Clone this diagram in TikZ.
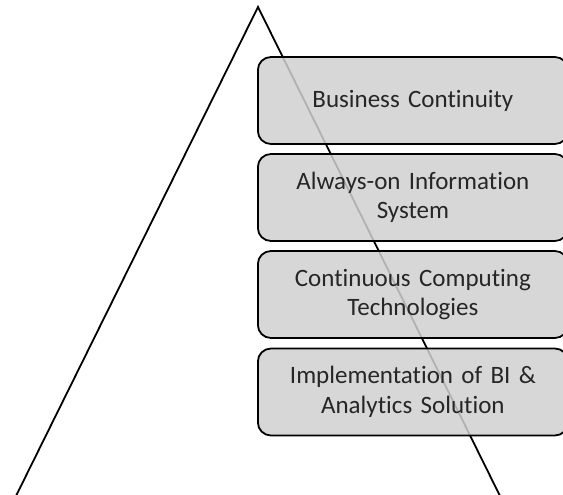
\documentclass[tikz,border=0pt]{standalone}
\usepackage{fontspec}
\setmainfont{Carlito}[Ligatures=NoCommon]
\begin{document}
\begin{tikzpicture}[x=1pt,y=-1pt,
  layer/.style={draw=black, line width=1.8pt, fill=boxgray, fill opacity=0.85,
    text opacity=1, rounded corners=13pt, minimum width=310pt, minimum height=87pt,
    anchor=west, align=center, text=textgray, inner sep=0pt,
    font=\fontsize{25}{29.5}\selectfont, text width=300pt},
  edge/.style={draw=black, line width=1.8pt}]
\definecolor{boxgray}{HTML}{D0D0D0}
\definecolor{textgray}{HTML}{262626}
\useasboundingbox (0,0) rectangle (563,495);
\clip (0,0) rectangle (563,495);
% pyramid outline
\coordinate (apex) at (258,7);
\coordinate (bl) at (14,500);
\coordinate (br) at (502,500);
\draw[edge, line join=miter] (bl) -- (apex) -- (br);
% stacked layers
\node[layer] (l1) at (257,100.5) {Business Continuity};
\node[layer] (l2) at (257,197.5) {Always-on Information\\System};
\node[layer] (l3) at (257,294.5) {Continuous Computing\\Technologies};
\node[layer] (l4) at (257,392) {Implementation of BI \&\\Analytics Solution};
\end{tikzpicture}
\end{document}
